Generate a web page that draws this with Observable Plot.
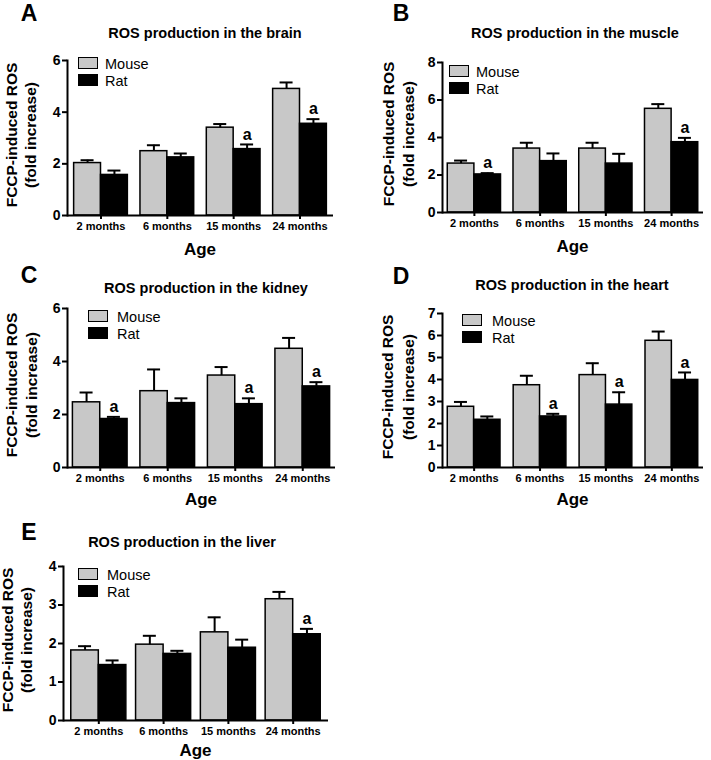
<!DOCTYPE html>
<html>
<head>
<meta charset="utf-8">
<script src="https://cdn.jsdelivr.net/npm/d3@7"></script>
<script src="https://cdn.jsdelivr.net/npm/@observablehq/plot@0.6"></script>
<style>
  html, body { margin: 0; padding: 0; background: #fff; }
  #root { position: relative; width: 711px; height: 760px; background: #fff; overflow: hidden;
          font-family: "Liberation Sans", Arial, Helvetica, sans-serif; color: #000; }
  .abs { position: absolute; white-space: nowrap; line-height: 1; }
  .c { transform: translate(-50%, -50%); }
  .letter { font-size: 23px; font-weight: bold; line-height: 23px; transform: translateX(-50%); }
  .title { font-size: 14.5px; font-weight: bold; }
  .age { font-size: 17px; font-weight: bold; line-height: 14px; }
  .ytitle { font-size: 15.5px; font-weight: bold; transform: translate(-50%, -50%) rotate(-90deg); }
  .box { position: absolute; width: 18px; height: 10px; border: 1.5px solid #000; }
  .leg { font-size: 14.5px; transform: translateY(-50%); }
  svg { position: absolute; overflow: visible; }
</style>
</head>
<body>
<div id="root"></div>
<script>
// ---- data ----
const ages = ["2 months", "6 months", "15 months", "24 months"];
const species = ["Mouse", "Rat"];

const brainMouse = [2.03, 2.49, 3.40, 4.90];
const brainMouseSem = [0.11, 0.23, 0.14, 0.25];
const brainRat = [1.57, 2.25, 2.57, 3.55];
const brainRatSem = [0.17, 0.15, 0.18, 0.18];
const brainSig = [false, false, true, true];

const muscleMouse = [2.61, 3.41, 3.41, 5.53];
const muscleMouseSem = [0.16, 0.31, 0.31, 0.25];
const muscleRat = [2.03, 2.74, 2.61, 3.75];
const muscleRatSem = [0.07, 0.41, 0.52, 0.23];
const muscleSig = [true, false, false, true];

const kidneyMouse = [2.46, 2.88, 3.47, 4.48];
const kidneyMouseSem = [0.37, 0.82, 0.32, 0.41];
const kidneyRat = [1.83, 2.43, 2.39, 3.06];
const kidneyRatSem = [0.08, 0.18, 0.22, 0.16];
const kidneySig = [true, false, true, true];

const heartMouse = [2.76, 3.74, 4.20, 5.76];
const heartMouseSem = [0.22, 0.43, 0.54, 0.42];
const heartRat = [2.17, 2.32, 2.86, 3.98];
const heartRatSem = [0.15, 0.12, 0.56, 0.34];
const heartSig = [false, true, true, true];

const liverMouse = [1.82, 1.97, 2.29, 3.15];
const liverMouseSem = [0.11, 0.23, 0.39, 0.19];
const liverRat = [1.44, 1.73, 1.89, 2.24];
const liverRatSem = [0.12, 0.08, 0.21, 0.14];
const liverSig = [false, false, false, true];

const brainTicks = [0, 2, 4, 6];
const muscleTicks = [0, 2, 4, 6, 8];
const kidneyTicks = [0, 2, 4, 6];
const heartTicks = [0, 1, 2, 3, 4, 5, 6, 7];
const liverTicks = [0, 1, 2, 3, 4];

const GREY = "#c8c8c8";
const FONT = '"Liberation Sans", Arial, Helvetica, sans-serif';
const root = document.getElementById("root");

function addDiv(cls, text, x, y, extra) {
  const d = document.createElement("div");
  d.className = "abs " + cls;
  d.textContent = text;
  d.style.left = x + "px";
  d.style.top = y + "px";
  if (extra) Object.assign(d.style, extra);
  root.appendChild(d);
  return d;
}

function panel(cfg) {
  const {letter, title, L, T, W, H, fl, fr, ft, fb, ymax, ticks, pi, po,
         mouse, mouseSem, rat, ratSem, sig, titleX, titleY, letterX, letterY,
         y1x, y2x, legX, legY, legTextX, ageY} = cfg;
  const ml = fl - L, mr = L + W - fr, mt = ft - T, mb = T + H - fb;
  const n = ages.length;
  const step = (fr - fl) / (n - pi + 2 * po);
  const bw = step * (1 - pi);
  const cap = 6.5;
  const data = ages.map((age, i) => ({
    age, mouse: mouse[i], mouseTop: mouse[i] + mouseSem[i],
    rat: rat[i], ratTop: rat[i] + ratSem[i], sig: sig[i]
  }));
  const plot = Plot.plot({
    width: W, height: H,
    marginLeft: ml, marginRight: mr, marginTop: mt, marginBottom: mb,
    style: {fontFamily: FONT, fontWeight: "bold", color: "black", background: "transparent", overflow: "visible"},
    x: {type: "band", domain: ages, paddingInner: pi, paddingOuter: po, round: false, label: null},
    y: {domain: [0, ymax], label: null},
    marks: [
      Plot.barY(data, {x: "age", y: "mouse", fill: GREY, stroke: "black", strokeWidth: 1.5, insetRight: bw / 2}),
      Plot.barY(data, {x: "age", y: "rat", fill: "black", stroke: "black", strokeWidth: 1.5, insetLeft: bw / 2}),
      Plot.ruleX(data, {x: "age", y1: "mouse", y2: "mouseTop", dx: -bw / 4, strokeWidth: 2}),
      Plot.tickY(data, {x: "age", y: "mouseTop", insetLeft: bw / 4 - cap, insetRight: 3 * bw / 4 - cap, strokeWidth: 2}),
      Plot.ruleX(data, {x: "age", y1: "rat", y2: "ratTop", dx: bw / 4, strokeWidth: 2}),
      Plot.tickY(data, {x: "age", y: "ratTop", insetLeft: 3 * bw / 4 - cap, insetRight: bw / 4 - cap, strokeWidth: 2}),
      Plot.text(data.filter(d => d.sig), {x: "age", y: "ratTop", text: () => "a", dx: bw / 4, dy: -10, fontSize: 16, fontWeight: "bold"}),
      Plot.ruleY([0], {strokeWidth: 2}),
      Plot.frame({anchor: "left", strokeWidth: 2}),
      Plot.axisY({ticks, tickFormat: d => String(d), tickSize: 5, tickPadding: 2, fontSize: 14, strokeWidth: 2, label: null}),
      Plot.axisX({tickSize: 4, tickPadding: 3, fontSize: 11, strokeWidth: 2, label: null})
    ]
  });
  plot.style.left = L + "px";
  plot.style.top = T + "px";
  root.appendChild(plot);

  addDiv("letter", letter, letterX, letterY);
  addDiv("title c", title, titleX, titleY);
  addDiv("age c", "Age", (fl + fr) / 2, ageY);
  const yc = (ft + fb) / 2 - 3;
  addDiv("ytitle", "FCCP-induced ROS", y1x, yc);
  addDiv("ytitle", "(fold increase)", y2x, yc);
  // legend
  const colors = [GREY, "black"];
  species.forEach((s, i) => {
    const by = legY + i * 17;
    const b = document.createElement("div");
    b.className = "box";
    b.style.left = legX + "px";
    b.style.top = by + "px";
    b.style.background = colors[i];
    root.appendChild(b);
    addDiv("leg", s, legTextX, by + 6.5);
  });
}

panel({letter: "A", title: "ROS production in the brain", L: 0, T: 0, W: 345, H: 240,
  fl: 67, fr: 333, ft: 60, fb: 215, ymax: 6, ticks: brainTicks, pi: 0.19, po: 0.1,
  mouse: brainMouse, mouseSem: brainMouseSem, rat: brainRat, ratSem: brainRatSem, sig: brainSig,
  titleX: 205, titleY: 33, letterX: 29, letterY: 1.5, y1x: 12, y2x: 31, legX: 78, legY: 57, legTextX: 105, ageY: 250});

panel({letter: "B", title: "ROS production in the muscle", L: 355, T: 0, W: 356, H: 240,
  fl: 442, fr: 703, ft: 62, fb: 212, ymax: 8, ticks: muscleTicks, pi: 0.19, po: 0.08,
  mouse: muscleMouse, mouseSem: muscleMouseSem, rat: muscleRat, ratSem: muscleRatSem, sig: muscleSig,
  titleX: 575, titleY: 33, letterX: 401, letterY: 1.5, y1x: 389, y2x: 409, legX: 449, legY: 65, legTextX: 476, ageY: 247});

panel({letter: "C", title: "ROS production in the kidney", L: 0, T: 255, W: 345, H: 235,
  fl: 67, fr: 335, ft: 308, fb: 467, ymax: 6, ticks: kidneyTicks, pi: 0.19, po: 0.08,
  mouse: kidneyMouse, mouseSem: kidneyMouseSem, rat: kidneyRat, ratSem: kidneyRatSem, sig: kidneySig,
  titleX: 206, titleY: 288, letterX: 29, letterY: 264, y1x: 12, y2x: 32, legX: 88, legY: 310, legTextX: 117, ageY: 500});

panel({letter: "D", title: "ROS production in the heart", L: 355, T: 255, W: 356, H: 235,
  fl: 442, fr: 703, ft: 313, fb: 467, ymax: 7, ticks: heartTicks, pi: 0.2, po: 0.08,
  mouse: heartMouse, mouseSem: heartMouseSem, rat: heartRat, ratSem: heartRatSem, sig: heartSig,
  titleX: 572, titleY: 285, letterX: 401, letterY: 265, y1x: 388, y2x: 409, legX: 462, legY: 314, legTextX: 492, ageY: 500});

panel({letter: "E", title: "ROS production in the liver", L: 0, T: 500, W: 345, H: 245,
  fl: 63, fr: 328, ft: 566, fb: 720, ymax: 4, ticks: liverTicks, pi: 0.15, po: 0.12,
  mouse: liverMouse, mouseSem: liverMouseSem, rat: liverRat, ratSem: liverRatSem, sig: liverSig,
  titleX: 182, titleY: 542, letterX: 29, letterY: 521, y1x: 8, y2x: 27, legX: 78, legY: 568, legTextX: 107, ageY: 751});
</script>
</body>
</html>
